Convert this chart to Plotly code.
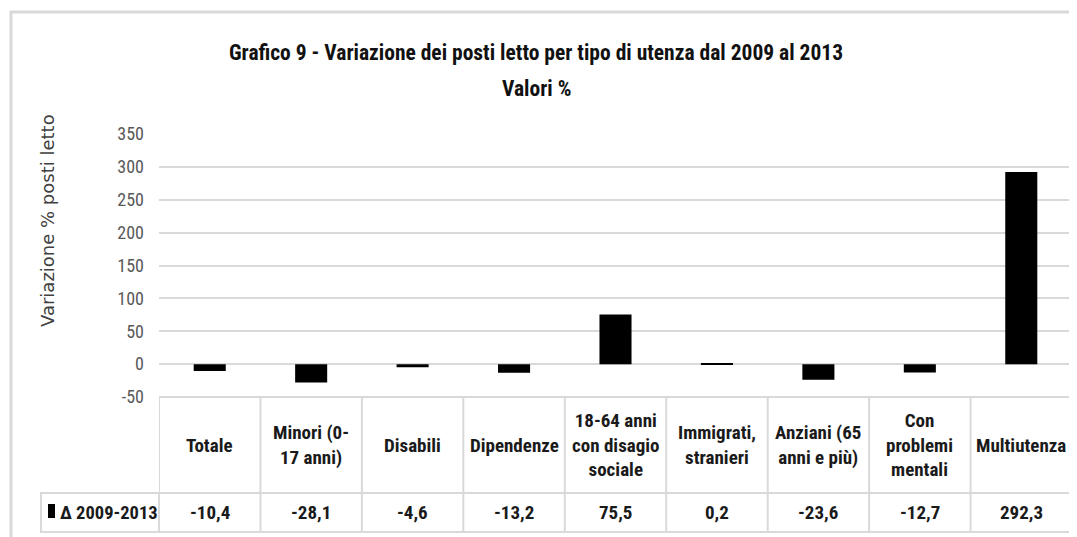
import plotly.graph_objects as go

# ---- data ----
categories = ["Totale", "Minori (0-<br>17 anni)", "Disabili", "Dipendenze",
              "18-64 anni<br>con disagio<br>sociale", "Immigrati,<br>stranieri",
              "Anziani (65<br>anni e più)", "Con<br>problemi<br>mentali", "Multiutenza"]
values = [-10.4, -28.1, -4.6, -13.2, 75.5, 0.2, -23.6, -12.7, 292.3]
series_name = "Δ 2009-2013"
y_ticks = [-50, 0, 50, 100, 150, 200, 250, 300, 350]
title_line1 = "Grafico 9 - Variazione dei posti letto per tipo di utenza dal 2009 al 2013"
title_line2 = "Valori %"
y_title = "Variazione % posti letto"

W, H = 1077, 537
OFF = 8  # page body margin
FONT = "Roboto Condensed, Liberation Sans Narrow, sans-serif"
GRID = "#d9d9d9"


def px(xp):
    return (xp - OFF) / W


def py(yp):
    return 1 - (yp - OFF) / H


plot_left, plot_right = 159, 1072
plot_top, plot_bottom = 134, 397
hdr_bottom, tbl_bottom = 493, 532

idx = list(range(len(categories)))

fig = go.Figure()
fig.add_trace(go.Bar(x=idx, y=values, marker=dict(color="black", line=dict(width=0)),
                     name=series_name, showlegend=False, hoverinfo="y"))

fig.update_layout(
    width=W, height=H,
    margin=dict(l=0, r=0, t=0, b=0, pad=0, autoexpand=False),
    paper_bgcolor="white", plot_bgcolor="white",
    bargap=0.684, showlegend=False,
    font=dict(family=FONT, color="#595959"),
    xaxis=dict(domain=[px(plot_left), px(plot_right)], range=[-0.5, len(categories) - 0.5],
               showticklabels=False, showgrid=False, zeroline=False, showline=False,
               fixedrange=True, automargin=False),
    yaxis=dict(domain=[py(plot_bottom), py(plot_top)], range=[y_ticks[0], y_ticks[-1]],
               tickvals=y_ticks, ticktext=[str(t) for t in y_ticks],
               showgrid=True, gridcolor=GRID, gridwidth=1.5, zeroline=True,
               zerolinecolor=GRID, zerolinewidth=1.5, showline=False,
               tickfont=dict(family=FONT, size=18, color="#595959"), ticks="",
               ticklabelstandoff=14, fixedrange=True, automargin=False),
)

shapes = []
# outer chart border
shapes.append(dict(type="rect", xref="paper", yref="paper", x0=px(11), x1=px(1200),
                   y0=py(800), y1=py(12), line=dict(color=GRID, width=3), layer="below"))
# table horizontal lines
for yy in (plot_bottom, hdr_bottom, tbl_bottom):
    shapes.append(dict(type="line", xref="paper", yref="paper", x0=px(plot_left), x1=px(plot_right),
                       y0=py(yy), y1=py(yy), line=dict(color=GRID, width=2)))
# table vertical lines
for i in range(len(categories) + 1):
    shapes.append(dict(type="line", xref="x", yref="paper", x0=i - 0.5, x1=i - 0.5,
                       y0=py(plot_bottom), y1=py(tbl_bottom), line=dict(color=GRID, width=2)))
# row-label cell
shapes.append(dict(type="rect", xref="paper", yref="paper", x0=px(41), x1=px(plot_left),
                   y0=py(tbl_bottom), y1=py(hdr_bottom), line=dict(color=GRID, width=2)))
# legend key in the table row label
shapes.append(dict(type="rect", xref="paper", yref="paper", x0=px(48), x1=px(55),
                   y0=py(518), y1=py(504), fillcolor="black", line=dict(width=0)))
fig.update_layout(shapes=shapes)

ann = []
ann.append(dict(text="<b>" + title_line1 + "</b>", xref="paper", yref="paper",
                x=px(536), y=py(52), xanchor="center", yanchor="middle", showarrow=False,
                font=dict(family=FONT, size=21.5, color="#111111")))
ann.append(dict(text="<b>" + title_line2 + "</b>", xref="paper", yref="paper",
                x=px(536), y=py(88), xanchor="center", yanchor="middle", showarrow=False,
                font=dict(family=FONT, size=21.5, color="#111111")))
ann.append(dict(text=y_title, xref="paper", yref="paper", x=px(48), y=py(221),
                xanchor="center", yanchor="middle", showarrow=False, textangle=-90,
                font=dict(family="DejaVu Sans, sans-serif", size=18, color="#404040")))
for i, (c, v) in enumerate(zip(categories, values)):
    ann.append(dict(text="<b>" + c + "</b>", xref="x", yref="paper", x=i,
                    y=py((plot_bottom + hdr_bottom) / 2), xanchor="center", yanchor="middle",
                    showarrow=False, align="center",
                    font=dict(family=FONT, size=19, color="#1a1a1a")))
    ann.append(dict(text="<b>" + f"{v:.1f}".replace(".", ",") + "</b>", xref="x", yref="paper",
                    x=i, y=py((hdr_bottom + tbl_bottom) / 2), xanchor="center", yanchor="middle",
                    showarrow=False,
                    font=dict(family=FONT, size=19, color="#1a1a1a")))
ann.append(dict(text="<b>" + series_name + "</b>", xref="paper", yref="paper",
                x=px(58), y=py((hdr_bottom + tbl_bottom) / 2), xanchor="left", yanchor="middle",
                showarrow=False,
                font=dict(family=FONT, size=18.5, color="#1a1a1a")))
fig.update_layout(annotations=ann)

fig.write_html("out.html")
